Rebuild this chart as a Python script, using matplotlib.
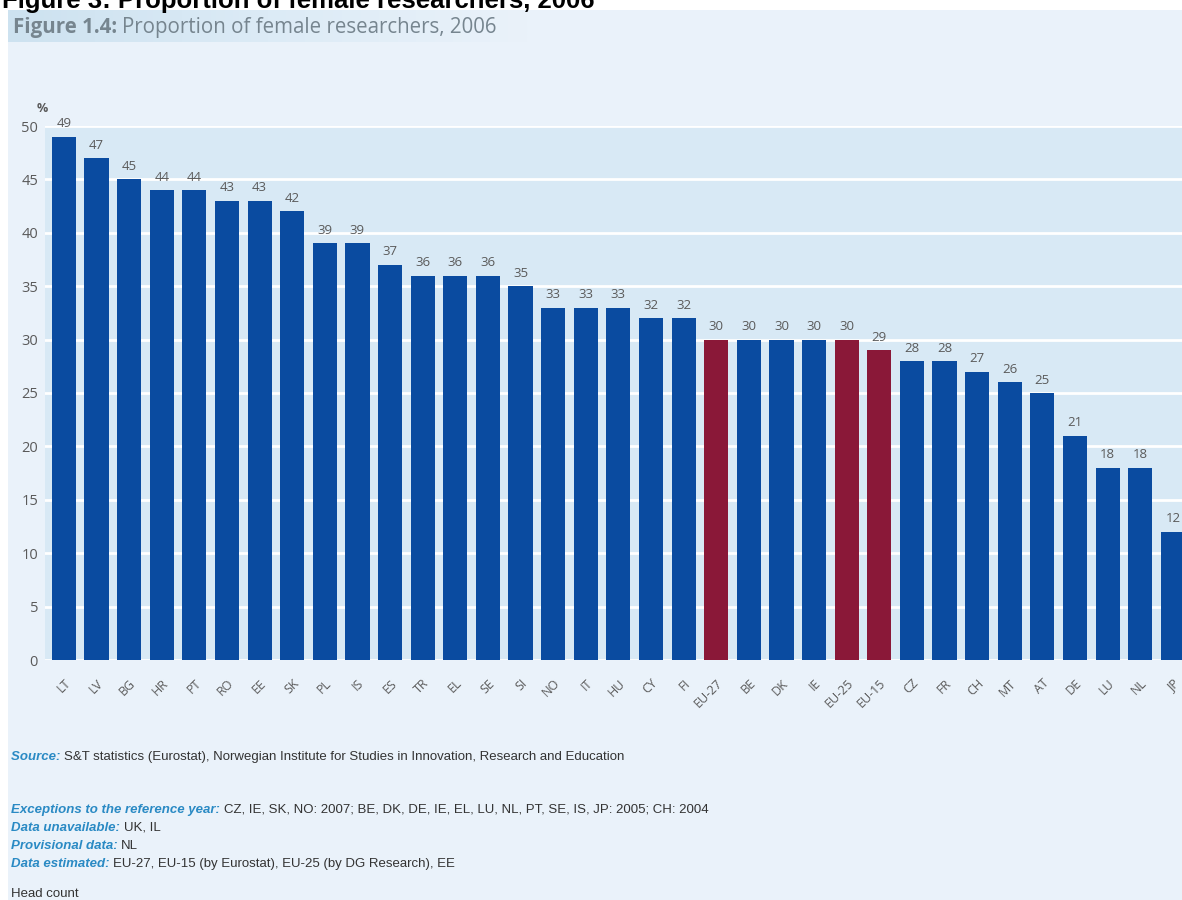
import matplotlib
matplotlib.use("Agg")
import matplotlib.pyplot as plt
from matplotlib.patches import Rectangle
import numpy as np

countries = ["LT", "LV", "BG", "HR", "PT", "RO", "EE", "SK", "PL", "IS", "ES", "TR",
             "EL", "SE", "SI", "NO", "IT", "HU", "CY", "FI", "EU-27", "BE", "DK", "IE",
             "EU-25", "EU-15", "CZ", "FR", "CH", "MT", "AT", "DE", "LU", "NL", "JP"]
share = [49, 47, 45, 44, 44, 43, 43, 42, 39, 39, 37, 36,
         36, 36, 35, 33, 33, 33, 32, 32, 30, 30, 30, 30,
         30, 29, 28, 28, 27, 26, 25, 21, 18, 18, 12]
aggregates = ["EU-27", "EU-25", "EU-15"]
y_ticks = [0, 5, 10, 15, 20, 25, 30, 35, 40, 45, 50]

notes = [
    ("Source: ", "S&T statistics (Eurostat), Norwegian Institute for Studies in Innovation, Research and Education"),
    ("Exceptions to the reference year: ", "CZ, IE, SK, NO: 2007; BE, DK, DE, IE, EL, LU, NL, PT, SE, IS, JP: 2005; CH: 2004"),
    ("Data unavailable: ", "UK, IL"),
    ("Provisional data: ", "NL"),
    ("Data estimated: ", "EU-27, EU-15 (by Eurostat), EU-25 (by DG Research), EE"),
]

BLUE = "#0a4ba0"
RED = "#8a1838"
GREY = "#5a5a5a"
PANEL = "#eaf2fa"
PLOT_BG = "#d8e9f5"
FONT = ["Open Sans", "DejaVu Sans"]
NOTE_FONT = ["Liberation Sans", "DejaVu Sans"]

W, H = 1182, 900
fig = plt.figure(figsize=(W / 100, H / 100), dpi=100)
fig.patch.set_facecolor("white")

def fx(px):
    return px / W

def fy(py):
    return 1 - py / H

# light panel behind everything
fig.patches.append(Rectangle((fx(8), 0), 1 - fx(8), fy(10), transform=fig.transFigure,
                             facecolor=PANEL, edgecolor="none", zorder=-10))

# title band with a fading gradient
band = fig.add_axes([fx(8), fy(42), fx(520), (42 - 10) / H])
grad = np.linspace(0, 1, 256).reshape(1, -1)
band.imshow(grad, aspect="auto", cmap=matplotlib.colors.LinearSegmentedColormap.from_list(
    "band", ["#cde2f0", "#dcebf6", PANEL]), extent=[0, 1, 0, 1])
band.set_axis_off()
t1 = fig.text(fx(13), fy(33), "Figure 1.4:", fontsize=14.8, fontweight="bold",
              color="#76858f", family=FONT, va="baseline")
fig.canvas.draw()
r = fig.canvas.get_renderer()
bb = t1.get_window_extent(r)
fig.text(bb.x1 / W + fx(5), fy(33), "Proportion of female researchers, 2006", fontsize=14.8,
         color="#76858f", family=FONT, va="baseline")

# bold page title, partly cut off at the top edge
fig.text(fx(2), fy(8), "Figure 3: Proportion of female researchers, 2006", fontsize=18.5,
         fontweight="bold", color="black", family=["Liberation Sans", "DejaVu Sans"],
         va="baseline")

# main bar chart
ax = fig.add_axes([fx(45), fy(660), 1 - fx(45), (660 - 126) / H])
ax.set_facecolor(PLOT_BG)
x = np.arange(len(countries))
colors = [RED if c in aggregates else BLUE for c in countries]
ax.bar(x, share, width=0.74, color=colors, zorder=3)
for xi, v in zip(x, share):
    ax.text(xi, v + 0.6, str(v), ha="center", va="bottom", fontsize=9.5,
            color=GREY, family=FONT, clip_on=False)

ax.set_xlim(-0.58, 34.28)
ax.set_ylim(0, 50)
ax.set_yticks(y_ticks)
ax.yaxis.grid(True, color="white", linewidth=2, zorder=1)
ax.set_axisbelow(True)
for s in ax.spines.values():
    s.set_visible(False)
ax.tick_params(axis="both", length=0, colors=GREY)
ax.tick_params(axis="y", pad=5, labelsize=10.5)
for lbl in ax.get_yticklabels():
    lbl.set_family(FONT)
ax.set_xticks(x)
ax.set_xticklabels(countries, rotation=45, ha="right", rotation_mode="anchor",
                   fontsize=9, family=FONT, color=GREY)
ax.tick_params(axis="x", pad=12)
ax.text(-0.67, 51.6, "%", fontsize=9, fontweight="bold", color=GREY, family=FONT,
        ha="center", va="center", clip_on=False)

# footnotes
ys = [757, 810, 828, 846, 864]
for (head, body), yy in zip(notes, ys):
    h = fig.text(fx(11), fy(yy), head, fontsize=9.5, style="italic", fontweight="bold",
                 color="#2a8ac4", family=NOTE_FONT, va="center")
    fig.canvas.draw()
    hb = h.get_window_extent(fig.canvas.get_renderer())
    fig.text(hb.x1 / W, fy(yy), body, fontsize=9.5, color="#333333", family=NOTE_FONT,
             va="center")
fig.text(fx(11), fy(894), "Head count", fontsize=9.5, color="#333333", family=NOTE_FONT,
         va="center")

fig.savefig("out.png", dpi=100)
